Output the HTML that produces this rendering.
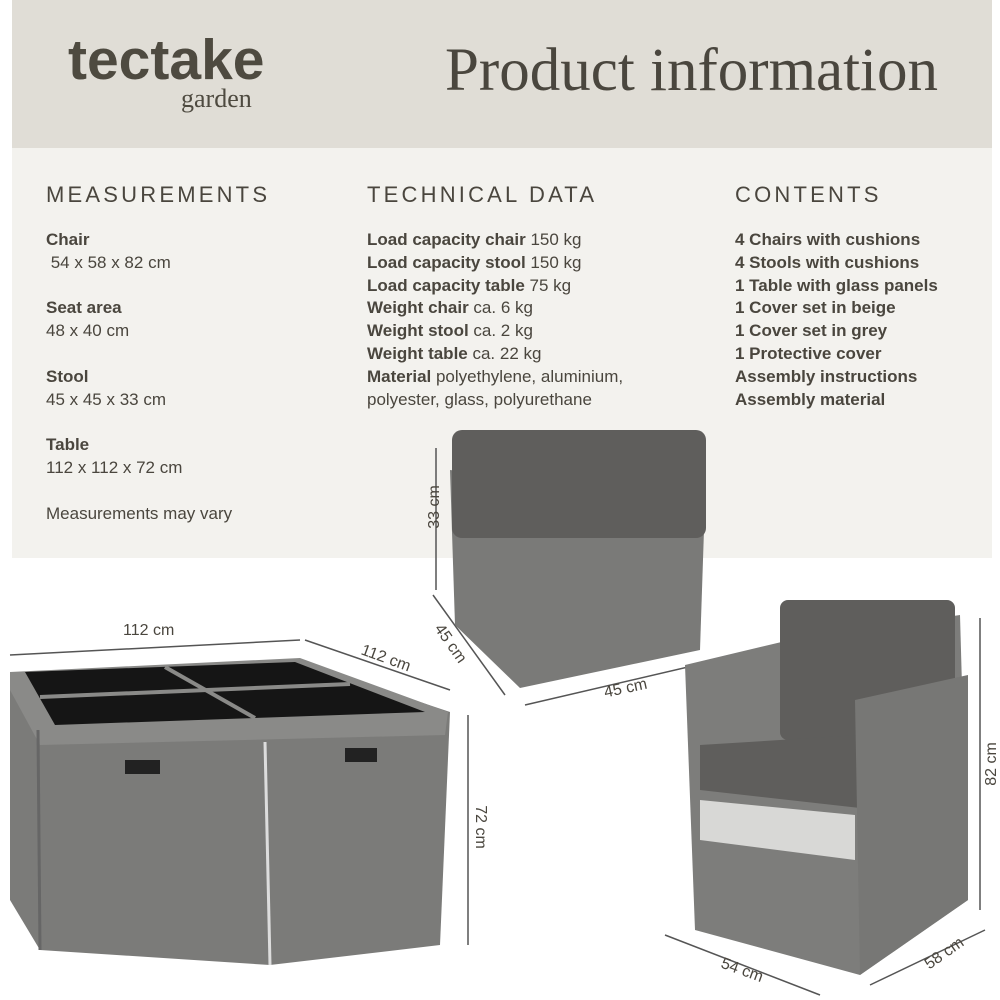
<!DOCTYPE html>
<html><head><meta charset="utf-8"><style>
body{margin:0;width:1000px;height:1000px;background:#fff;position:relative;overflow:hidden;font-family:"Liberation Sans",sans-serif;color:#4a463e}
.hdr{position:absolute;left:12px;top:0;width:980px;height:148px;background:#e0ddd6}
.pnl{position:absolute;left:12px;top:148px;width:980px;height:410px;background:#f3f2ee}
.t{position:absolute;white-space:nowrap}
h3{position:absolute;margin:0;font-weight:normal;font-size:22px;letter-spacing:3.2px;color:#4a463e}
.col{position:absolute;font-size:17px;line-height:22.8px;color:#4a463e}
b{font-weight:bold}
</style></head><body>
<div class="hdr"></div><div class="pnl"></div>
<div class="t" style="left:68px;top:27px;font-size:57px;font-weight:bold;color:#4e4a40;letter-spacing:0px">tectake</div>
<div class="t" style="left:181px;top:84px;font-size:26px;font-family:'Liberation Serif',serif;color:#4e4a40">garden</div>
<div class="t" style="left:445px;top:36px;font-size:61px;font-family:'Liberation Serif',serif;color:#4a463e">Product information</div>
<h3 style="left:46px;top:182px">MEASUREMENTS</h3>
<h3 style="left:367px;top:182px">TECHNICAL DATA</h3>
<h3 style="left:735px;top:182px">CONTENTS</h3>
<div class="col" style="left:46px;top:229px"><b>Chair</b><br>&nbsp;54 x 58 x 82 cm<br><br><b>Seat area</b><br>48 x 40 cm<br><br><b>Stool</b><br>45 x 45 x 33 cm<br><br><b>Table</b><br>112 x 112 x 72 cm<br><div style="margin-top:23px">Measurements may vary</div></div>
<div class="col" style="left:367px;top:229px"><b>Load capacity chair</b> 150 kg<br><b>Load capacity stool</b> 150 kg<br><b>Load capacity table</b> 75 kg<br><b>Weight chair</b> ca. 6 kg<br><b>Weight stool</b> ca. 2 kg<br><b>Weight table</b> ca. 22 kg<br><b>Material</b> polyethylene, aluminium,<br>polyester, glass, polyurethane</div>
<div class="col" style="left:735px;top:229px;font-weight:bold">4 Chairs with cushions<br>4 Stools with cushions<br>1 Table with glass panels<br>1 Cover set in beige<br>1 Cover set in grey<br>1 Protective cover<br>Assembly instructions<br>Assembly material</div>
<svg width="1000" height="1000" style="position:absolute;left:0;top:0">
<g stroke="#555" stroke-width="1.5" fill="none">
<line x1="436" y1="448" x2="436" y2="590"/><line x1="10" y1="655" x2="300" y2="640"/><line x1="305" y1="640" x2="450" y2="690"/><line x1="468" y1="715" x2="468" y2="945"/><line x1="433" y1="595" x2="505" y2="695"/><line x1="525" y1="705" x2="718" y2="660"/><line x1="980" y1="618" x2="980" y2="910"/><line x1="665" y1="935" x2="820" y2="995"/><line x1="870" y1="985" x2="985" y2="930"/>
</g>
<!-- stool -->
<polygon points="450,470 705,500 700,650 520,688 455,625" fill="#7a7a78"/>
<rect x="452" y="430" width="254" height="108" rx="10" fill="#5f5e5c"/>
<!-- table -->
<polygon points="10,680 300,662 450,712 440,945 270,965 40,950 10,900" fill="#7b7b79"/>
<polygon points="10,672 300,658 448,712 445,735 40,745 10,690" fill="#8a8a88"/>
<polygon points="25,672 295,662 425,712 55,725" fill="#151515"/>
<line x1="165" y1="667" x2="255" y2="718" stroke="#8a8a88" stroke-width="4"/>
<line x1="40" y1="697" x2="350" y2="684" stroke="#8a8a88" stroke-width="4"/>
<line x1="265" y1="742" x2="270" y2="965" stroke="#ddd" stroke-width="3"/>
<line x1="38" y1="730" x2="40" y2="950" stroke="#666" stroke-width="3"/>
<rect x="125" y="760" width="35" height="14" fill="#222"/><rect x="345" y="748" width="32" height="14" fill="#222"/>
<!-- chair -->
<polygon points="685,665 790,640 960,615 968,900 860,975 695,930" fill="#7d7d7b"/>
<rect x="780" y="600" width="175" height="140" rx="8" fill="#5f5e5c"/>
<polygon points="700,745 860,735 860,808 700,790" fill="#5f5e5c"/>
<polygon points="700,800 855,815 855,860 700,840" fill="#d8d8d6"/>
<polygon points="855,700 968,675 968,900 860,975" fill="#777775"/>
</svg>
<div class="t" style="left:413px;top:498px;font-size:16px;transform:rotate(-90deg)">33 cm</div>
<div class="t" style="left:123px;top:622px;font-size:16px">112 cm</div>
<div class="t" style="left:360px;top:650px;font-size:16px;transform:rotate(20deg)">112 cm</div>
<div class="t" style="left:458px;top:818px;font-size:16px;transform:rotate(90deg)">72 cm</div>
<div class="t" style="left:428px;top:635px;font-size:16px;transform:rotate(55deg)">45 cm</div>
<div class="t" style="left:604px;top:680px;font-size:16px;transform:rotate(-12deg)">45 cm</div>
<div class="t" style="left:970px;top:755px;font-size:16px;transform:rotate(-90deg)">82 cm</div>
<div class="t" style="left:720px;top:962px;font-size:16px;transform:rotate(20deg)">54 cm</div>
<div class="t" style="left:923px;top:945px;font-size:16px;transform:rotate(-35deg)">58 cm</div>
</body></html>
